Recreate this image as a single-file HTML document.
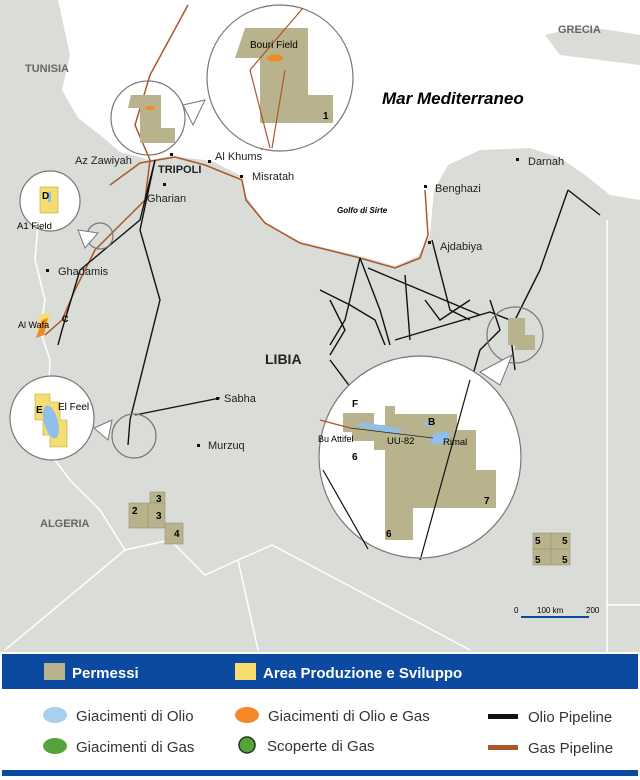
<!DOCTYPE html>
<html><head><meta charset="utf-8"><style>
body{margin:0;width:640px;height:780px;overflow:hidden;background:#fff;font-family:"Liberation Sans",sans-serif}
svg{display:block}
</style></head><body>
<svg width="640" height="780" viewBox="0 0 640 780" font-family="Liberation Sans, sans-serif">
<rect x="0" y="0" width="640" height="652" fill="#d9dcd7"/>
<!-- sea -->
<path d="M58,0 L640,0 L640,200 L610,195 L585,175 L560,158 L530,148 L480,150 L448,165 L434,190 L430,235 L418,256 L395,266 L360,256 L300,242 L265,222 L246,196 L241,176 L212,161 L172,156 L150,160 L120,152 L100,135 L78,118 L62,90 L70,55 Z" fill="#fff"/>
<path d="M545,35 Q580,25 610,30 L640,35 L640,65 L600,60 L560,55 Z" fill="#d9dcd7"/>
<!-- borders -->
<polyline points="40,200 35,260 45,300 40,330 50,360 48,400 55,460 70,480 100,510 125,550 170,540 205,575 238,560 272,545 470,650" fill="none" stroke="#fff" stroke-width="1.5"/>
<polyline points="125,550 5,650" fill="none" stroke="#fff" stroke-width="1.5"/>
<polyline points="238,560 258,650" fill="none" stroke="#fff" stroke-width="1.5"/>
<polyline points="607,220 607,652" fill="none" stroke="#fff" stroke-width="1.5"/>
<line x1="607" y1="605" x2="640" y2="605" stroke="#fff" stroke-width="1.5"/>
<!-- gas pipelines -->
<g fill="none" stroke="#a8582a" stroke-width="1.5">
<polyline points="110,185 140,163 175,157 205,165 242,180 246,200 265,223 300,243 360,258 395,268 420,258 428,235 425,190"/>
<polyline points="188,5 150,75 135,125 150,160 145,200 95,250 75,290 62,320 45,335"/>
<polyline points="303,10 245,70 262,150"/>
</g>
<!-- oil pipelines -->
<g fill="none" stroke="#111" stroke-width="1.4">
<polyline points="155,160 140,220 80,270 62,330 58,345"/>
<polyline points="155,160 140,230 160,300 130,420 128,445"/>
<polyline points="135,415 220,398"/>
<polyline points="360,258 345,320 330,345"/>
<polyline points="360,258 380,310 390,345"/>
<polyline points="368,268 480,315"/>
<polyline points="405,275 410,340"/>
<polyline points="330,300 345,330 330,355"/>
<polyline points="320,290 350,305 375,320 385,345"/>
<polyline points="432,240 450,310 470,320"/>
<polyline points="395,340 490,312 510,320"/>
<polyline points="568,190 540,270 510,330 515,370"/>
<polyline points="568,190 600,215"/>
<polyline points="490,300 500,330 480,350 420,560"/>
<polyline points="330,360 360,400"/>
<polyline points="425,300 440,320 470,300"/>
<polyline points="325,440 365,525"/>
</g>
<!-- small circles -->
<g fill="none" stroke="#777" stroke-width="1.2">
<circle cx="148" cy="118" r="37"/>
<circle cx="100" cy="236" r="13"/>
<circle cx="134" cy="436" r="22"/>
<circle cx="515" cy="335" r="28"/>
</g>
<path d="M508,318 L525,318 L525,335 L535,335 L535,350 L515,350 L515,345 L508,345 Z" fill="#b8b38c"/>
<!-- Bouri small -->
<path d="M131,95 L161,95 L161,128 L175,128 L175,143 L140,143 L140,108 L128,108 Z" fill="#b8b38c"/>
<ellipse cx="150" cy="108" rx="5" ry="2" fill="#f08a24"/>
<polygon points="183,105 205,100 193,125" fill="#fff" stroke="#777"/>
<!-- big Bouri circle -->
<circle cx="280" cy="78" r="73" fill="#fff" stroke="#777" stroke-width="1.2"/>
<path d="M245,28 L308,28 L308,95 L333,95 L333,123 L260,123 L260,58 L235,58 Z" fill="#b8b38c"/>
<polyline points="303,8 250,70 270,148" fill="none" stroke="#a8582a" stroke-width="1.2"/>
<line x1="285" y1="70" x2="272" y2="148" stroke="#a8582a" stroke-width="1.2"/>
<ellipse cx="275" cy="58" rx="8" ry="3.5" fill="#f08a24"/>
<text x="250" y="48" font-size="10">Bouri Field</text>
<text x="323" y="119" font-size="10" font-weight="bold">1</text>
<!-- A1 -->
<polygon points="78,230 98,233 85,248" fill="#fff" stroke="#777"/>
<circle cx="50" cy="201" r="30" fill="#fff" stroke="#777" stroke-width="1.2"/>
<rect x="40" y="187" width="18" height="26" fill="#f7dc6f" stroke="#b8a23c" stroke-width="0.6"/>
<rect x="48" y="192" width="3" height="10" fill="#8fc0ea"/>
<text x="42" y="199" font-size="10" font-weight="bold">D</text>
<text x="17" y="229" font-size="9.5">A1 Field</text>
<!-- Al Wafa -->
<path d="M40,315 L50,312 L48,325 L40,335 L36,328 Z" fill="#f7dc6f"/>
<path d="M42,320 L48,318 L44,335 L36,338 Z" fill="#f08a24"/>
<text x="62" y="322" font-size="9" font-weight="bold">C</text>
<text x="18" y="328" font-size="9">Al Wafa</text>
<!-- El Feel -->
<polygon points="94,428 112,420 108,440" fill="#fff" stroke="#777"/>
<circle cx="52" cy="418" r="42" fill="#fff" stroke="#777" stroke-width="1.2"/>
<path d="M35,394 L50,394 L50,402 L60,402 L60,420 L67,420 L67,447 L50,447 L50,435 L43,435 L43,420 L35,420 Z" fill="#f7dc6f" stroke="#b8a23c" stroke-width="0.6"/>
<ellipse cx="51" cy="422" rx="7" ry="17" transform="rotate(-15 51 422)" fill="#8fc0ea"/>
<text x="36" y="413" font-size="10" font-weight="bold">E</text>
<text x="58" y="410" font-size="10">El Feel</text>
<!-- big south circle -->
<polygon points="480,372 512,355 500,385" fill="#fff" stroke="#777"/>
<circle cx="420" cy="457" r="101" fill="#fff" stroke="#777" stroke-width="1.2"/>
<path d="M385,406 L395,406 L395,414 L457,414 L457,430 L476,430 L476,470 L496,470 L496,508 L413,508 L413,540 L385,540 Z" fill="#b8b38c"/>
<path d="M343,413 L374,413 L374,425 L385,425 L385,450 L374,450 L374,441 L352,441 L352,432 L343,432 Z" fill="#b8b38c"/>
<ellipse cx="380" cy="428" rx="24" ry="3" transform="rotate(10 380 428)" fill="#8fc0ea"/>
<ellipse cx="440" cy="438" rx="10" ry="6" transform="rotate(-20 440 438)" fill="#8fc0ea"/>
<ellipse cx="428" cy="424" rx="5" ry="2" fill="#8fc0ea"/>
<polyline points="320,420 350,428" stroke="#a8582a" stroke-width="1.2" fill="none"/>
<line x1="350" y1="428" x2="433" y2="438" stroke="#222" stroke-width="0.7"/>
<line x1="470" y1="380" x2="421" y2="557" stroke="#111" stroke-width="1.2"/>
<line x1="323" y1="470" x2="368" y2="549" stroke="#111" stroke-width="1.2"/>
<text x="352" y="407" font-size="10" font-weight="bold">F</text>
<text x="428" y="425" font-size="10" font-weight="bold">B</text>
<text x="443" y="445" font-size="9.5">Rimal</text>
<text x="387" y="444" font-size="9.5">UU-82</text>
<text x="318" y="442" font-size="9">Bu Attifel</text>
<text x="352" y="460" font-size="10" font-weight="bold">6</text>
<text x="386" y="537" font-size="10" font-weight="bold">6</text>
<text x="484" y="504" font-size="10" font-weight="bold">7</text>
<!-- blocks -->
<g fill="#b8b38c" stroke="#9a9572" stroke-width="0.6">
<rect x="150" y="492" width="15" height="11"/>
<rect x="129" y="503" width="19" height="25"/>
<rect x="148" y="503" width="17" height="25"/>
<rect x="165" y="523" width="18" height="21"/>
<rect x="533" y="533" width="18" height="16"/>
<rect x="551" y="533" width="19" height="16"/>
<rect x="533" y="549" width="18" height="16"/>
<rect x="551" y="549" width="19" height="16"/>
</g>
<g font-size="10" font-weight="bold">
<text x="156" y="502">3</text><text x="132" y="514">2</text><text x="156" y="519">3</text><text x="174" y="537">4</text>
<text x="535" y="544">5</text><text x="562" y="544">5</text><text x="535" y="563">5</text><text x="562" y="563">5</text>
</g>
<!-- cities -->
<g fill="#111">
<rect x="170" y="153" width="3" height="3"/><rect x="208" y="160" width="3" height="3"/><rect x="240" y="175" width="3" height="3"/>
<rect x="163" y="183" width="3" height="3"/><rect x="516" y="158" width="3" height="3"/><rect x="424" y="185" width="3" height="3"/>
<rect x="428" y="241" width="3" height="3"/><rect x="46" y="269" width="3" height="3"/><rect x="216" y="397" width="3" height="3"/>
<rect x="197" y="444" width="3" height="3"/>
</g>
<g font-size="11" fill="#222">
<text x="75" y="164">Az Zawiyah</text>
<text x="158" y="173" font-weight="bold">TRIPOLI</text>
<text x="215" y="160">Al Khums</text>
<text x="252" y="180">Misratah</text>
<text x="147" y="202">Gharian</text>
<text x="58" y="275">Ghadamis</text>
<text x="528" y="165">Darnah</text>
<text x="435" y="192">Benghazi</text>
<text x="440" y="250">Ajdabiya</text>
<text x="224" y="402">Sabha</text>
<text x="208" y="449">Murzuq</text>
</g>
<text x="337" y="213" font-size="8" font-style="italic" font-weight="bold">Golfo di Sirte</text>
<text x="382" y="104" font-size="17" font-style="italic" font-weight="bold">Mar Mediterraneo</text>
<text x="265" y="364" font-size="14" font-weight="bold" fill="#222">LIBIA</text>
<g font-size="11" font-weight="bold" fill="#666">
<text x="25" y="72">TUNISIA</text><text x="558" y="33">GRECIA</text><text x="40" y="527">ALGERIA</text>
</g>
<!-- scale -->
<text x="514" y="613" font-size="8">0</text><text x="537" y="613" font-size="8">100 km</text><text x="586" y="613" font-size="8">200</text>
<line x1="521" y1="617" x2="589" y2="617" stroke="#0b4aa0" stroke-width="2"/>
<!-- legend -->
<rect x="2" y="654" width="636" height="35" fill="#0b4aa0"/>
<rect x="44" y="663" width="21" height="17" fill="#b8b38c"/>
<text x="72" y="678" font-size="15" font-weight="bold" fill="#fff">Permessi</text>
<rect x="235" y="663" width="21" height="17" fill="#f7dc6f"/>
<text x="263" y="678" font-size="15" font-weight="bold" fill="#fff">Area Produzione e Sviluppo</text>
<g font-size="15" fill="#333">
<ellipse cx="55" cy="715" rx="12" ry="8" fill="#a9cfee"/><text x="76" y="721">Giacimenti di Olio</text>
<ellipse cx="55" cy="746" rx="12" ry="8" fill="#56a33c"/><text x="76" y="752">Giacimenti di Gas</text>
<ellipse cx="247" cy="715" rx="12" ry="8" fill="#f5872a"/><text x="268" y="721">Giacimenti di Olio e Gas</text>
<ellipse cx="247" cy="745" rx="8" ry="8" fill="#56a33c" stroke="#1a3a10" stroke-width="1.5"/><text x="267" y="751">Scoperte di Gas</text>
<rect x="488" y="714" width="30" height="5" fill="#111"/><text x="528" y="722">Olio Pipeline</text>
<rect x="488" y="745" width="30" height="5" fill="#a8582a"/><text x="528" y="753">Gas Pipeline</text>
</g>
<rect x="2" y="770" width="636" height="6" fill="#0b4aa0"/>
</svg>
</body></html>
